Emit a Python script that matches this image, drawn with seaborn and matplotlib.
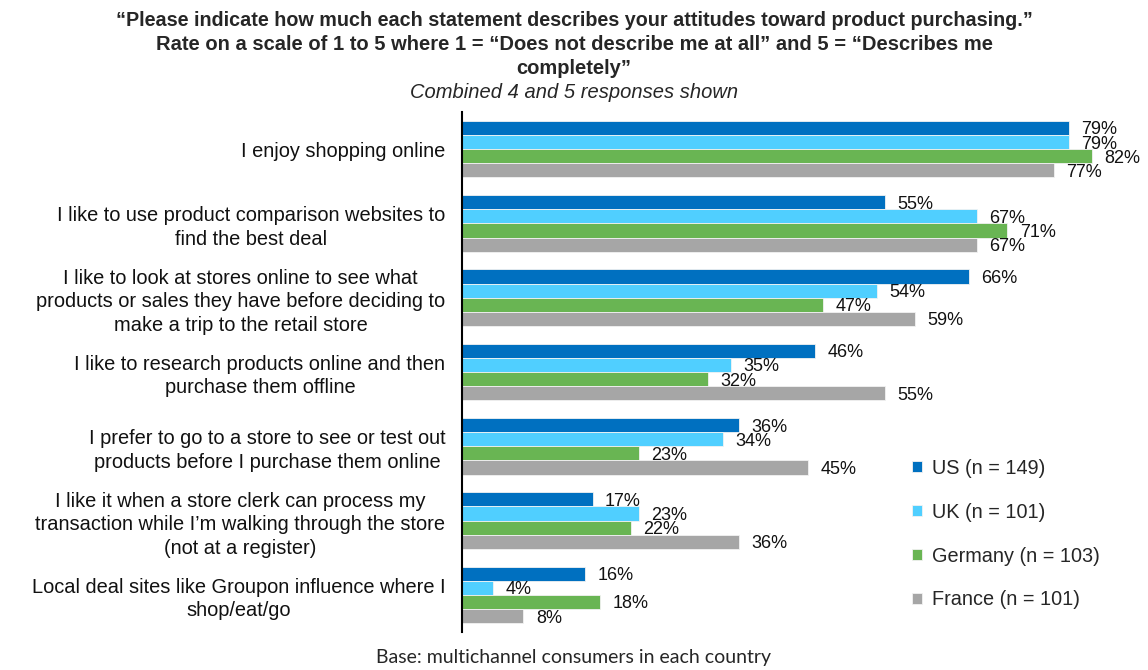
import matplotlib
matplotlib.use("Agg")
import matplotlib.pyplot as plt
import seaborn as sns
import pandas as pd

statements = [
    "I enjoy shopping online",
    "I like to use product comparison websites to\nfind the best deal",
    "I like to look at stores online to see what\nproducts or sales they have before deciding to\nmake a trip to the retail store",
    "I like to research products online and then\npurchase them offline",
    "I prefer to go to a store to see or test out\nproducts before I purchase them online",
    "I like it when a store clerk can process my\ntransaction while I\u2019m walking through the store\n(not at a register)",
    "Local deal sites like Groupon influence where I\nshop/eat/go",
]
countries = ["US (n = 149)", "UK (n = 101)", "Germany (n = 103)", "France (n = 101)"]
us = [79, 55, 66, 46, 36, 17, 16]
uk = [79, 67, 54, 35, 34, 23, 4]
germany = [82, 71, 47, 32, 23, 22, 18]
france = [77, 67, 59, 55, 45, 36, 8]
colors = ["#0070C0", "#50CFFF", "#69B553", "#A6A6A6"]

rows = []
for country, vals in zip(countries, [us, uk, germany, france]):
    for s, v in zip(statements, vals):
        rows.append({"statement": s, "country": country, "pct": v})
df = pd.DataFrame(rows)

sns.set_theme(style="white")
plt.rcParams["font.family"] = ["Liberation Sans", "DejaVu Sans"]

fig = plt.figure(figsize=(11.48, 6.70), dpi=100)
ax = fig.add_axes([462 / 1148, 1 - 632 / 670, 653 / 1148, (632 - 112) / 670])

sns.barplot(data=df, y="statement", x="pct", hue="country", orient="h",
            order=statements, hue_order=countries, palette=colors,
            width=0.76, edgecolor="#F2F2F2", linewidth=0.6, errorbar=None,
            saturation=1, ax=ax)

for cont in ax.containers:
    texts = ax.bar_label(cont, labels=[f"{v:.0f}%" for v in cont.datavalues],
                         padding=9, fontsize=13, color="#111111")
    for t in texts:
        t.set_va("center_baseline")

ax.set_xlim(0, 85)
ax.set_xlabel("")
ax.set_ylabel("")
ax.set_xticks([])
ax.tick_params(axis="y", length=0, pad=12)
ax.set_yticks(range(len(statements)))
ax.set_yticklabels(statements, fontsize=14.4, ha="right",
                   multialignment="center", linespacing=1.3, color="#111111")
for side in ["top", "right", "bottom"]:
    ax.spines[side].set_visible(False)
ax.spines["left"].set_color("black")
ax.spines["left"].set_linewidth(1.5)

handles, labels = ax.get_legend_handles_labels()
ax.legend(handles, labels, loc="upper left", bbox_to_anchor=(894 / 1148, 1 - 441 / 670),
          bbox_transform=fig.transFigure, frameon=False, fontsize=14.3,
          handlelength=0.5, handleheight=0.5, handletextpad=0.5,
          labelspacing=1.25)

title_font = ["Liberation Sans", "DejaVu Sans"]
fig.text(0.5, 1 - 20 / 670,
         "\u201cPlease indicate how much each statement describes your attitudes toward product purchasing.\u201d",
         ha="center", va="center", fontsize=14.2, fontweight="bold", family=title_font)
fig.text(0.5, 1 - 45 / 670,
         "Rate on a scale of 1 to 5 where 1 = \u201cDoes not describe me at all\u201d and 5 = \u201cDescribes me",
         ha="center", va="center", fontsize=14.5, fontweight="bold", family=title_font)
fig.text(0.5, 1 - 69 / 670, "completely\u201d",
         ha="center", va="center", fontsize=14.5, fontweight="bold", family=title_font)
fig.text(0.5, 1 - 93 / 670, "Combined 4 and 5 responses shown",
         ha="center", va="center", fontsize=14.5, style="italic", family=title_font)

fig.text(574 / 1148, 1 - 657 / 670, "Base: multichannel consumers in each country",
         ha="center", va="center", fontsize=14, family=["Lato", "DejaVu Sans"])

fig.savefig("out.png", dpi=100)
